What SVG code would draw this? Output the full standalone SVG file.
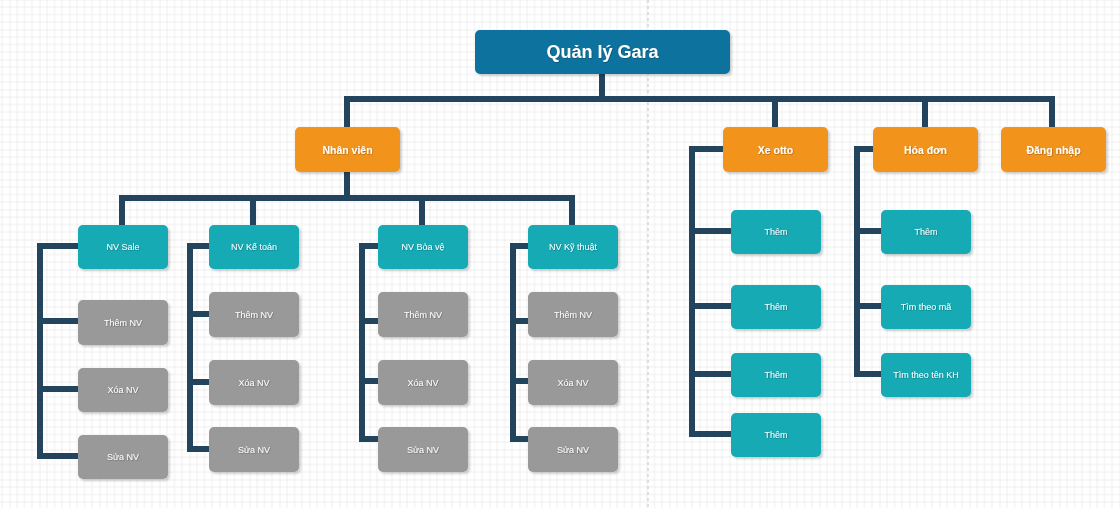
<svg xmlns="http://www.w3.org/2000/svg" width="1120" height="508" viewBox="0 0 1120 508">
<defs>
<pattern id="grid" width="30" height="30" patternUnits="userSpaceOnUse" patternTransform="translate(9.5,-0.5)">
<path d="M7.5 0V30M15 0V30M22.5 0V30M0 7.5H30M0 15H30M0 22.5H30" stroke="#efefef" stroke-width="1" fill="none"/>
<path d="M0 0V30M0 0H30" stroke="#dddddd" stroke-width="1" fill="none"/>
</pattern>
<filter id="sh" x="-10%" y="-10%" width="130%" height="140%">
<feDropShadow dx="2" dy="2" stdDeviation="0.8" flood-color="#000" flood-opacity="0.18"/>
</filter>
<filter id="ts" x="-10%" y="-30%" width="130%" height="160%">
<feDropShadow dx="0.6" dy="0.6" stdDeviation="0.3" flood-color="#000" flood-opacity="0.35"/>
</filter>
</defs>
<style>
.n rect{filter:url(#sh)}
.t{fill:#ffffff;font-family:"Liberation Sans",Arial,sans-serif;text-anchor:middle;filter:url(#ts)}
.root rect{fill:#10739E}
.root text{font-size:18px;font-weight:bold}
.org rect{fill:#F2931E}
.org text{font-size:10.5px;font-weight:bold}
.tea rect{fill:#12AAB5}
.gry rect{fill:#999999}
.sm text{font-size:9px}
.e{fill:none;stroke:#23445D;stroke-width:6;stroke-linejoin:miter}
</style>
<rect width="1120" height="508" fill="#ffffff"/>
<rect width="1120" height="508" fill="url(#grid)"/>
<line x1="648" y1="0" x2="648" y2="508" stroke="#c4c4c4" stroke-width="1" stroke-dasharray="3,3"/>

<g id="connectors">
<polyline class="e" points="602,74 602,99 347,99 347,127"/>
<polyline class="e" points="602,99 775,99 775,127"/>
<polyline class="e" points="602,99 925,99 925,127"/>
<polyline class="e" points="602,99 1052,99 1052,127"/>
<polyline class="e" points="347,172 347,198 122,198 122,225"/>
<polyline class="e" points="347,198 253,198 253,225"/>
<polyline class="e" points="347,198 422,198 422,225"/>
<polyline class="e" points="347,198 572,198 572,225"/>
<polyline class="e" points="78,246 40,246 40,321 78,321"/>
<polyline class="e" points="40,321 40,389 78,389"/>
<polyline class="e" points="40,389 40,456 78,456"/>
<polyline class="e" points="209,246 190,246 190,314 209,314"/>
<polyline class="e" points="190,314 190,382 209,382"/>
<polyline class="e" points="190,382 190,449 209,449"/>
<polyline class="e" points="378,246 362,246 362,321 378,321"/>
<polyline class="e" points="362,321 362,381 378,381"/>
<polyline class="e" points="362,381 362,439 378,439"/>
<polyline class="e" points="528,246 513,246 513,321 528,321"/>
<polyline class="e" points="513,321 513,381 528,381"/>
<polyline class="e" points="513,381 513,439 528,439"/>
<polyline class="e" points="723,149 692,149 692,231 731,231"/>
<polyline class="e" points="692,231 692,306 731,306"/>
<polyline class="e" points="692,306 692,374 731,374"/>
<polyline class="e" points="692,374 692,434 731,434"/>
<polyline class="e" points="873,149 857,149 857,231 881,231"/>
<polyline class="e" points="857,231 857,306 881,306"/>
<polyline class="e" points="857,306 857,374 881,374"/>
</g>

<g id="root" class="n root"><rect x="475" y="30" width="255" height="44" rx="5"/><text class="t" x="602.5" y="58">Quản lý Gara</text></g>

<g id="nhanvien" class="n org"><rect x="295" y="127" width="105" height="45" rx="5"/><text class="t" x="347.5" y="153.5">Nhân viên</text></g>
<g id="xeotto" class="n org"><rect x="723" y="127" width="105" height="45" rx="5"/><text class="t" x="775.5" y="153.5">Xe otto</text></g>
<g id="hoadon" class="n org"><rect x="873" y="127" width="105" height="45" rx="5"/><text class="t" x="925.5" y="153.5">Hóa đơn</text></g>
<g id="dangnhap" class="n org"><rect x="1001" y="127" width="105" height="45" rx="5"/><text class="t" x="1053.5" y="153.5">Đăng nhập</text></g>

<g id="nvsale" class="n tea sm"><rect x="78" y="225" width="90" height="44" rx="5"/><text class="t" x="123" y="250">NV Sale</text></g>
<g id="nvketoan" class="n tea sm"><rect x="209" y="225" width="90" height="44" rx="5"/><text class="t" x="254" y="250">NV Kế toán</text></g>
<g id="nvbaove" class="n tea sm"><rect x="378" y="225" width="90" height="44" rx="5"/><text class="t" x="423" y="250">NV Bỏa vệ</text></g>
<g id="nvkythuat" class="n tea sm"><rect x="528" y="225" width="90" height="44" rx="5"/><text class="t" x="573" y="250">NV Kỹ thuật</text></g>

<g id="sale-them" class="n gry sm"><rect x="78" y="300" width="90" height="45" rx="5"/><text class="t" x="123" y="325.5">Thêm NV</text></g>
<g id="sale-xoa" class="n gry sm"><rect x="78" y="368" width="90" height="44" rx="5"/><text class="t" x="123" y="393">Xóa NV</text></g>
<g id="sale-sua" class="n gry sm"><rect x="78" y="435" width="90" height="44" rx="5"/><text class="t" x="123" y="460">Sửa NV</text></g>

<g id="kt-them" class="n gry sm"><rect x="209" y="292" width="90" height="45" rx="5"/><text class="t" x="254" y="317.5">Thêm NV</text></g>
<g id="kt-xoa" class="n gry sm"><rect x="209" y="360" width="90" height="45" rx="5"/><text class="t" x="254" y="385.5">Xóa NV</text></g>
<g id="kt-sua" class="n gry sm"><rect x="209" y="427" width="90" height="45" rx="5"/><text class="t" x="254" y="452.5">Sửa NV</text></g>

<g id="bv-them" class="n gry sm"><rect x="378" y="292" width="90" height="45" rx="5"/><text class="t" x="423" y="317.5">Thêm NV</text></g>
<g id="bv-xoa" class="n gry sm"><rect x="378" y="360" width="90" height="45" rx="5"/><text class="t" x="423" y="385.5">Xóa NV</text></g>
<g id="bv-sua" class="n gry sm"><rect x="378" y="427" width="90" height="45" rx="5"/><text class="t" x="423" y="452.5">Sửa NV</text></g>

<g id="kth-them" class="n gry sm"><rect x="528" y="292" width="90" height="45" rx="5"/><text class="t" x="573" y="317.5">Thêm NV</text></g>
<g id="kth-xoa" class="n gry sm"><rect x="528" y="360" width="90" height="45" rx="5"/><text class="t" x="573" y="385.5">Xóa NV</text></g>
<g id="kth-sua" class="n gry sm"><rect x="528" y="427" width="90" height="45" rx="5"/><text class="t" x="573" y="452.5">Sửa NV</text></g>

<g id="xe-1" class="n tea sm"><rect x="731" y="210" width="90" height="44" rx="5"/><text class="t" x="776" y="235">Thêm</text></g>
<g id="xe-2" class="n tea sm"><rect x="731" y="285" width="90" height="44" rx="5"/><text class="t" x="776" y="310">Thêm</text></g>
<g id="xe-3" class="n tea sm"><rect x="731" y="353" width="90" height="44" rx="5"/><text class="t" x="776" y="378">Thêm</text></g>
<g id="xe-4" class="n tea sm"><rect x="731" y="413" width="90" height="44" rx="5"/><text class="t" x="776" y="438">Thêm</text></g>

<g id="hd-them" class="n tea sm"><rect x="881" y="210" width="90" height="44" rx="5"/><text class="t" x="926" y="235">Thêm</text></g>
<g id="hd-ma" class="n tea sm"><rect x="881" y="285" width="90" height="44" rx="5"/><text class="t" x="926" y="310">Tìm theo mã</text></g>
<g id="hd-ten" class="n tea sm"><rect x="881" y="353" width="90" height="44" rx="5"/><text class="t" x="926" y="378">Tìm theo tên KH</text></g>
</svg>
